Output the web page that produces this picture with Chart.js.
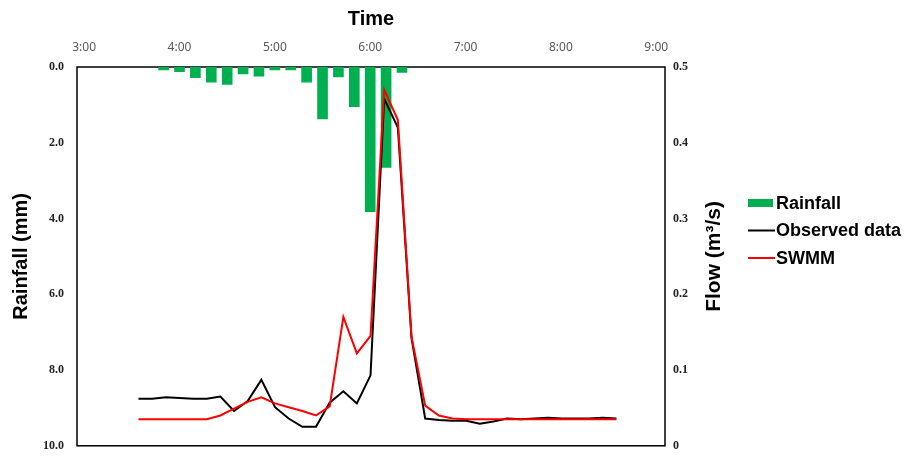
<!DOCTYPE html>
<html>
<head>
<meta charset="utf-8">
<script src="https://cdn.jsdelivr.net/npm/chart.js@4.4.1/dist/chart.umd.min.js"></script>
<style>
  html, body { margin: 0; padding: 0; background: #fff; }
  #wrap { width: 904px; height: 466px; position: relative; }
</style>
</head>
<body>
<div id="wrap"><canvas id="chart"></canvas></div>
<script>
// top axis tick labels
const TIME_TICKS = ["3:00", "4:00", "5:00", "6:00", "7:00", "8:00", "9:00"];

// rainfall bars (mm per 10 min)
const RAIN_TIMES = ["3:50", "4:00", "4:10", "4:20", "4:30", "4:40", "4:50", "5:00",
                    "5:10", "5:20", "5:30", "5:40", "5:50", "6:00", "6:10", "6:20"];
const RAINFALL = [0.08, 0.12, 0.28, 0.40, 0.46, 0.18, 0.24, 0.08,
                  0.08, 0.40, 1.37, 0.26, 1.05, 3.82, 2.65, 0.14];

// flow samples, minutes after 3:00
const FLOW_MINUTES = [34.2, 42.8, 51.4, 60.0, 68.6, 77.2, 85.7, 94.3, 102.9, 111.5,
                      120.1, 128.7, 137.3, 145.9, 154.5, 163.1, 171.6, 180.2, 188.8, 197.4,
                      206.0, 214.6, 223.2, 231.8, 240.4, 249.0, 257.5, 266.1, 274.7, 283.3,
                      291.9, 300.5, 309.1, 317.7, 326.3, 334.9];
const OBSERVED = [0.062, 0.062, 0.064, 0.063, 0.062, 0.062, 0.065, 0.046, 0.059, 0.087,
                  0.051, 0.036, 0.025, 0.025, 0.057, 0.072, 0.056, 0.093, 0.458, 0.420,
                  0.142, 0.036, 0.034, 0.033, 0.033, 0.029, 0.032, 0.036, 0.035, 0.036,
                  0.037, 0.036, 0.036, 0.036, 0.037, 0.036];
const SWMM = [0.035, 0.035, 0.035, 0.035, 0.035, 0.035, 0.040, 0.049, 0.058, 0.064,
              0.056, 0.051, 0.046, 0.040, 0.052, 0.170, 0.122, 0.145, 0.470, 0.430,
              0.144, 0.053, 0.040, 0.036, 0.035, 0.035, 0.035, 0.035, 0.035, 0.035,
              0.035, 0.035, 0.035, 0.035, 0.035, 0.035];

function toMinutes(hm) {
  const [h, m] = hm.split(":").map(Number);
  return (h - 3) * 60 + m;
}

const SANS = "'Liberation Sans', Arial, sans-serif";
const SERIF = "'Liberation Serif', 'Times New Roman', serif";

// plot frame, right axis title (reads bottom to top, like Excel) and the legend
const frame = {
  id: "frame",
  beforeDatasetsDraw(chart) {
    const { ctx, chartArea: a } = chart;
    ctx.save();
    ctx.strokeStyle = "#000";
    ctx.lineWidth = 1.5;
    ctx.strokeRect(a.left, a.top, a.right - a.left, a.bottom - a.top);
    ctx.restore();
  },
  afterDraw(chart) {
    const { ctx, chartArea: a } = chart;
    ctx.save();
    ctx.translate(a.right + 49, (a.top + a.bottom) / 2);
    ctx.rotate(-Math.PI / 2);
    ctx.font = "bold 21px " + SANS;
    ctx.fillStyle = "#000";
    ctx.textAlign = "center";
    ctx.textBaseline = "middle";
    ctx.fillText("Flow (m\u00B3/s)", 0, 0);
    ctx.restore();

    // legend
    const x0 = a.right + 83;
    ctx.save();
    ctx.font = "bold 18px " + SANS;
    ctx.textAlign = "left";
    ctx.textBaseline = "middle";
    chart.data.datasets.forEach((ds, i) => {
      const y = 203 + i * 27.5;
      if (ds.type === "bar") {
        ctx.fillStyle = ds.backgroundColor;
        ctx.fillRect(x0, y - 4, 25, 8);
      } else {
        ctx.strokeStyle = ds.borderColor;
        ctx.lineWidth = 2;
        ctx.beginPath();
        ctx.moveTo(x0, y);
        ctx.lineTo(x0 + 27, y);
        ctx.stroke();
      }
      ctx.fillStyle = "#000";
      ctx.fillText(ds.label, x0 + 28, y + 1);
    });
    ctx.restore();
  }
};

new Chart(document.getElementById("chart"), {
  type: "bar",
  data: {
    datasets: [
      {
        type: "bar",
        label: "Rainfall",
        data: RAIN_TIMES.map((t, i) => ({ x: toMinutes(t), y: RAINFALL[i] })),
        backgroundColor: "#00b050",
        borderWidth: 0,
        barThickness: 10,
        xAxisID: "x",
        yAxisID: "yRain",
        order: 2
      },
      {
        type: "line",
        label: "Observed data",
        data: FLOW_MINUTES.map((x, i) => ({ x, y: OBSERVED[i] })),
        borderColor: "#000",
        borderWidth: 2,
        pointRadius: 0,
        tension: 0,
        xAxisID: "x",
        yAxisID: "yFlow",
        order: 1
      },
      {
        type: "line",
        label: "SWMM",
        data: FLOW_MINUTES.map((x, i) => ({ x, y: SWMM[i] })),
        borderColor: "#ff0000",
        borderWidth: 2,
        pointRadius: 0,
        tension: 0,
        xAxisID: "x",
        yAxisID: "yFlow",
        order: 0
      }
    ]
  },
  options: {
    responsive: true,
    maintainAspectRatio: false,
    animation: false,
    layout: { padding: { top: 6, bottom: 11, left: 0, right: 156 } },
    plugins: {
      tooltip: { enabled: false },
      legend: { display: false }
    },
    scales: {
      x: {
        type: "linear",
        position: "top",
        min: -4.5,
        max: 365.5,
        offset: false,
        grid: { display: false, drawTicks: false },
        border: { display: false },
        afterBuildTicks(s) {
          s.ticks = TIME_TICKS.map(t => ({ value: toMinutes(t) }));
        },
        afterFit(s) { s.height = 61; },
        ticks: {
          autoSkip: false,
          maxRotation: 0,
          padding: 12,
          color: "#595959",
          font: { family: "'Noto Sans', sans-serif", size: 12 },
          callback: v => TIME_TICKS.find(t => toMinutes(t) === v) || ""
        },
        title: {
          display: true,
          text: "Time",
          color: "#000",
          font: { family: SANS, size: 20, weight: "bold" },
          padding: { top: 1, bottom: 0 }
        }
      },
      yRain: {
        type: "linear",
        position: "left",
        reverse: true,
        min: 0,
        max: 10,
        grid: { display: false, drawTicks: false },
        border: { display: false },
        afterFit(s) { s.width = 77; },
        ticks: {
          stepSize: 2,
          padding: 13,
          color: "#222",
          font: { family: SERIF, size: 12, weight: "bold" },
          callback: v => v.toFixed(1)
        },
        title: {
          display: true,
          text: "Rainfall (mm)",
          color: "#000",
          font: { family: SANS, size: 20, weight: "bold" },
          padding: { top: 9, bottom: 0 }
        }
      },
      yFlow: {
        type: "linear",
        position: "right",
        min: 0,
        max: 0.5,
        grid: { display: false, drawTicks: false },
        border: { display: false },
        afterFit(s) { s.width = 83; },
        ticks: {
          stepSize: 0.1,
          padding: 8,
          color: "#222",
          font: { family: SERIF, size: 12, weight: "bold" },
          callback: v => (v === 0 ? "0" : v.toFixed(1))
        }
      }
    }
  },
  plugins: [frame]
});
</script>
</body>
</html>
